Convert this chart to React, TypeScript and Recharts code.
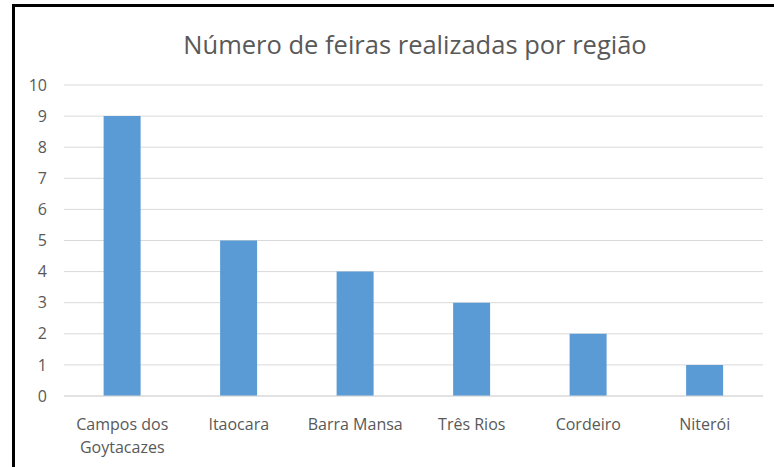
import React from 'react';
import { BarChart, Bar, XAxis, YAxis, CartesianGrid, Text } from 'recharts';

const regions = ['Campos dos Goytacazes', 'Itaocara', 'Barra Mansa', 'Três Rios', 'Cordeiro', 'Niterói'];
const feiras = [9, 5, 4, 3, 2, 1];
const yTicks = [0, 1, 2, 3, 4, 5, 6, 7, 8, 9, 10];

const data = regions.map((regiao, i) => ({ regiao, feiras: feiras[i] }));

const labelColor = '#595959';
const font = '"Open Sans", sans-serif';

function RegionTick(props: any) {
  const { x, y, payload } = props;
  return (
    <Text
      x={x}
      y={y + 15}
      width={105}
      textAnchor="middle"
      verticalAnchor="start"
      lineHeight={23}
      fill={labelColor}
      style={{ fontSize: 16, fontFamily: font }}
    >
      {payload.value}
    </Text>
  );
}

export default function App() {
  return (
    <div style={{ position: 'absolute', left: 0, top: 0, width: 774, height: 467, background: '#fff', overflow: 'hidden' }}>
      <div
        style={{
          position: 'absolute',
          left: 12,
          top: 4,
          width: 780,
          height: 480,
          borderLeft: '3px solid #000',
          borderTop: '3px solid #000',
        }}
      />
      <div
        style={{
          position: 'absolute',
          left: 0,
          width: 774,
          top: 27,
          paddingLeft: 56,
          boxSizing: 'border-box',
          textAlign: 'center',
          fontFamily: font,
          fontSize: 25.5,
          color: labelColor,
        }}
      >
        Número de feiras realizadas por região
      </div>
      <div style={{ position: 'absolute', left: 0, top: 0 }}>
        <BarChart width={774} height={467} data={data} margin={{ top: 85, right: 11, bottom: 0, left: 0 }} barCategoryGap="34%">
          <CartesianGrid vertical={false} stroke="#d9d9d9" />
          <XAxis dataKey="regiao" height={71} axisLine={{ stroke: '#d9d9d9' }} tickLine={false} tick={<RegionTick />} interval={0} />
          <YAxis
            domain={[0, 10]}
            ticks={yTicks}
            interval={0}
            axisLine={false}
            tickLine={false}
            width={64}
            tickMargin={11}
            tick={{ fill: labelColor, fontSize: 16, fontFamily: font }}
          />
          <Bar dataKey="feiras" fill="#5b9bd5" isAnimationActive={false} />
        </BarChart>
      </div>
    </div>
  );
}
